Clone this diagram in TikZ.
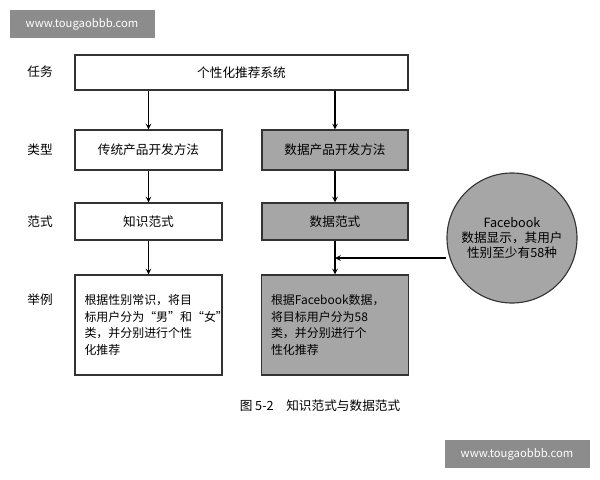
\documentclass[tikz,border=0pt]{standalone}
\usepackage{fontspec}
\setmainfont{Noto Sans CJK SC}
\usetikzlibrary{positioning}
\begin{document}
\begin{tikzpicture}[x=0.025cm,y=-0.025cm,>=stealth,font=\fontsize{9}{11}\selectfont]
        \tikzstyle{box}=[draw=black!80,thick,fill=white,inner sep=2pt]
        \tikzstyle{data}=[box,fill=black!35]
        \tikzstyle{lab}=[anchor=center]
        \tikzstyle{wmark}=[fill=black!45,text=white,minimum width=145*0.025cm,minimum height=28*0.025cm,font=\fontsize{8}{10}\selectfont]
        \tikzstyle{example}=[minimum width=147*0.025cm,minimum height=100*0.025cm,text width=128*0.025cm,inner sep=0pt,align=left,font=\fontsize{8.5}{12}\selectfont]
        \tikzstyle{edge}=[draw,thick,->]
       \useasboundingbox (0,0) rectangle (600,480);
       \node [wmark] (w1) at (82,24) {www.tougaobbb.com};
       \node [wmark] (w2) at (517,454) {www.tougaobbb.com};
       % left labels
       \node [lab] (l1) at (40,72) {任务};
       \node [lab] (l2) at (40,150) {类型};
       \node [lab] (l3) at (40,222) {范式};
       \node [lab] (l4) at (40,300) {举例};
       % boxes
       \node [box,minimum width=333*0.025cm,minimum height=35*0.025cm] (task) at (241.5,72.5) {个性化推荐系统};
       \node [box,minimum width=147*0.025cm,minimum height=40*0.025cm] (t1) at (148.5,150) {传统产品开发方法};
       \node [data,minimum width=146*0.025cm,minimum height=40*0.025cm] (t2) at (335,150) {数据产品开发方法};
       \node [box,minimum width=147*0.025cm,minimum height=37*0.025cm] (p1) at (148.5,221.5) {知识范式};
       \node [data,minimum width=146*0.025cm,minimum height=37*0.025cm] (p2) at (335,221.5) {数据范式};
       \node [box,example] (e1) at (148.5,325) {根据性别常识，将目\\标用户分为“男”和“女”\\类，并分别进行个性\\化推荐};
       \node [data,example] (e2) at (335,325) {根据Facebook数据，\\将目标用户分为58\\类，并分别进行个\\性化推荐};
       \node [circle,draw=black!80,thick,fill=black!35,minimum size=130*0.025cm,align=center] (fb) at (512,238) {Facebook\\数据显示，其用户\\性别至少有58种};
       \node (cap) at (320,406) {图 5-2\quad 知识范式与数据范式};
       % arrows
       \coordinate (j) at (335,258);
       \path[edge] (task.south -| t1) -- (t1);
       \path[edge] (task.south -| t2) -- (t2);
       \path[edge] (t1) -- (p1);
       \path[edge] (t2) -- (p2);
       \path[edge] (p1) -- (e1);
       \path[edge] (p2) -- (e2);
       \path[edge] (fb.west |- j) -- (j);
      \end{tikzpicture}
\end{document}
